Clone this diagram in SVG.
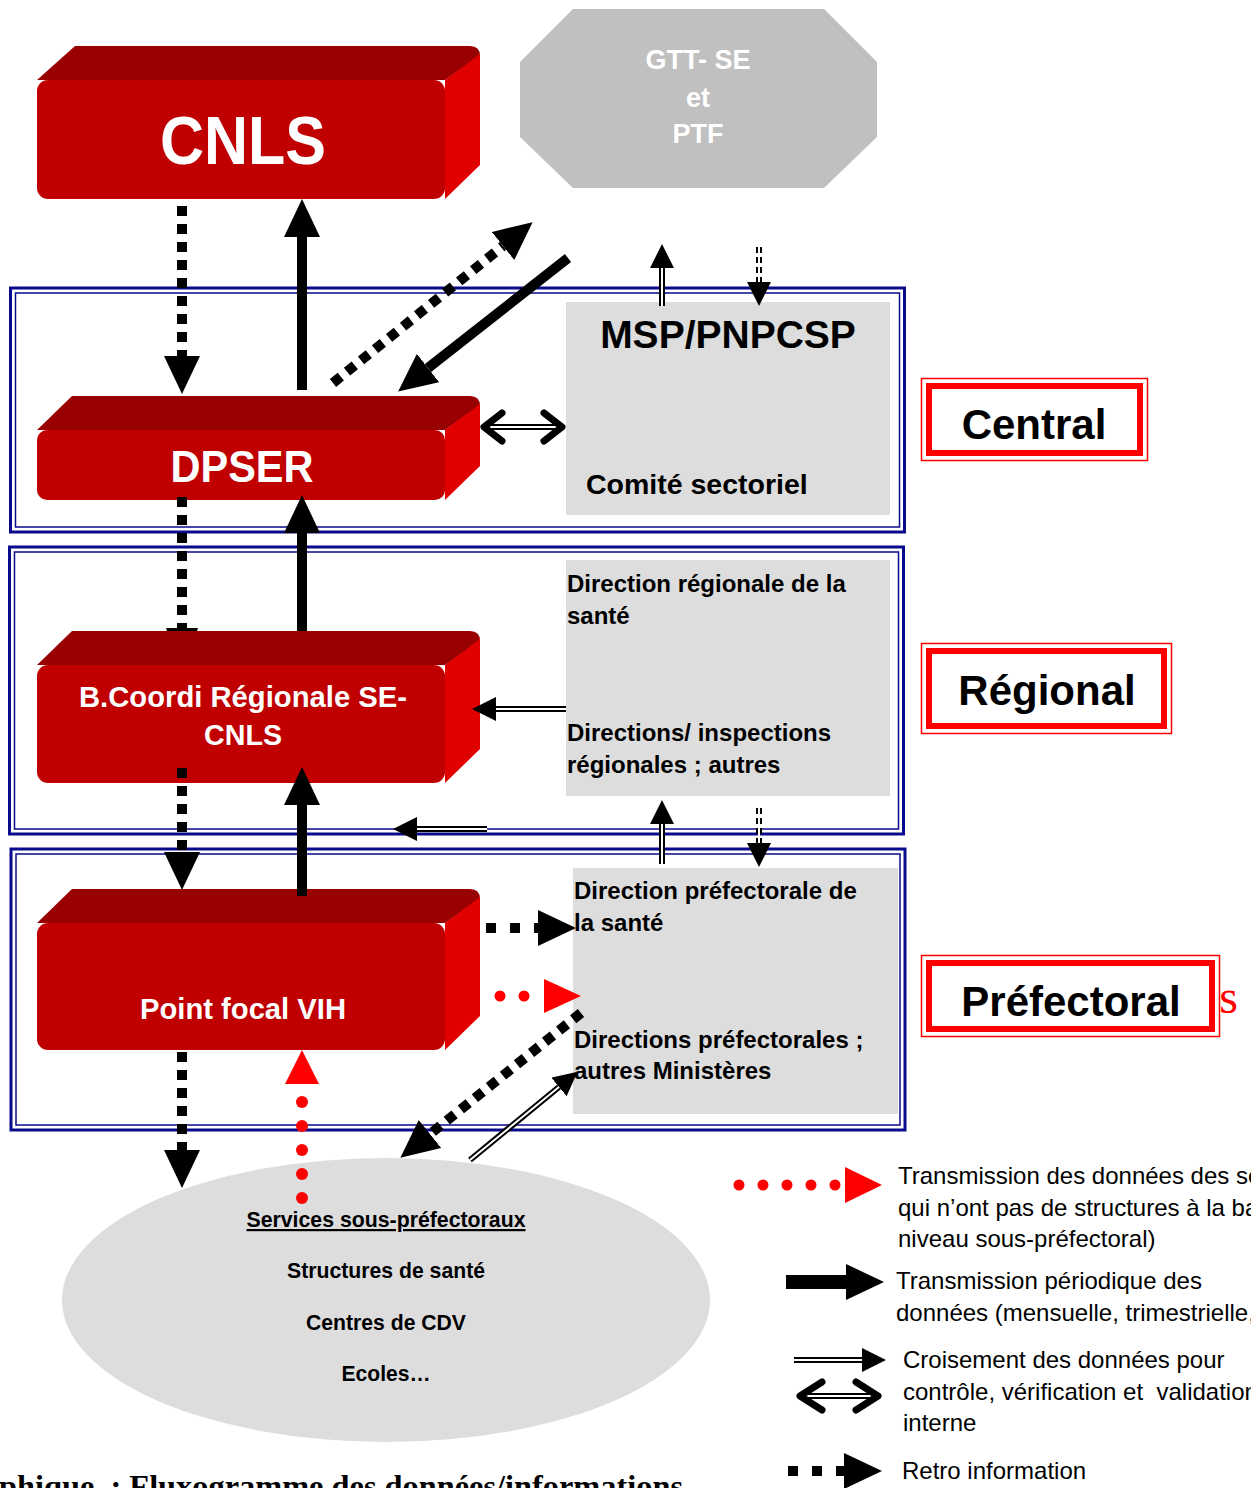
<svg xmlns="http://www.w3.org/2000/svg" width="1251" height="1488" viewBox="0 0 1251 1488">
<defs>
<style>
.top{fill:#990000}.front{fill:#c00000}.side{fill:#e00000}
.wt{fill:#fff;font-family:"Liberation Sans",Arial,sans-serif;font-weight:bold}
.bt{fill:#000;font-family:"Liberation Sans",Arial,sans-serif;font-weight:bold}
.nt{font-family:"Liberation Sans Narrow","Liberation Sans",Arial,sans-serif;font-weight:bold}
.lt{fill:#000;font-family:"Liberation Sans",Arial,sans-serif;font-size:24px}
.gray{fill:#dddddd}
.frO{fill:none;stroke:#0a0a8c;stroke-width:3}
.frI{fill:none;stroke:#0a0a8c;stroke-width:1.5}
.lvO{fill:#fff;stroke:#ff0000;stroke-width:1.5}
.lvI{fill:none;stroke:#ff0000;stroke-width:6}
.solid{fill:none;stroke:#000;stroke-width:10}
.dash{fill:none;stroke:#000;stroke-width:10;stroke-dasharray:10 8}
.dashh{fill:none;stroke:#000;stroke-width:10;stroke-dasharray:10 14}
.dbl{fill:none;stroke:#000;stroke-width:6}
.dblin{fill:none;stroke:#fff;stroke-width:2}
.dbld{fill:none;stroke:#000;stroke-width:6;stroke-dasharray:6 4}
.chev{fill:none;stroke:#000;stroke-width:7;stroke-linecap:round;stroke-linejoin:round}
.red{fill:#ff0000}
</style>
<marker id="hBig" markerUnits="userSpaceOnUse" markerWidth="38" markerHeight="36" viewBox="0 0 38 36" refX="0" refY="18" orient="auto"><path d="M0,0 L38,18 L0,36 Z" fill="#000"/></marker>
<marker id="hSm" markerUnits="userSpaceOnUse" markerWidth="24" markerHeight="24" viewBox="0 0 24 24" refX="0" refY="12" orient="auto"><path d="M0,0 L24,12 L0,24 Z" fill="#000"/></marker>
</defs>
<rect width="1251" height="1488" fill="#fff"/>

<g id="frames">
<rect class="frO" x="10.5" y="288" width="894" height="244"/>
<rect class="frI" x="15.5" y="293" width="884" height="234"/>
<rect class="frO" x="9.5" y="547" width="894" height="287"/>
<rect class="frI" x="14.5" y="552" width="884" height="277"/>
<rect class="frO" x="11" y="849" width="894" height="281"/>
<rect class="frI" x="16" y="854" width="884" height="271"/>
</g>

<g id="cnls">
<path class="top" d="M37,80 L75,46 L470,46 Q480,46 480,56 L445,80 Z"/>
<path class="side" d="M445,80 L480,54 L480,165 L445,199 Z"/>
<rect class="front" x="37" y="80" width="408" height="119" rx="11"/>
<text class="wt" x="243" y="164" font-size="68" text-anchor="middle" textLength="166" lengthAdjust="spacingAndGlyphs">CNLS</text>
</g>

<g id="gtt">
<polygon fill="#c0c0c0" points="573,9 824,9 877,62 877,137 824,188 573,188 520,137 520,62"/>
<text class="wt" x="698" y="69" font-size="27" text-anchor="middle">GTT- SE</text>
<text class="wt" x="698" y="107" font-size="27" text-anchor="middle">et</text>
<text class="wt" x="698" y="143" font-size="27" text-anchor="middle">PTF</text>
</g>

<g id="dpser">
<path class="top" d="M37,430 L72,396 L470,396 Q480,396 480,406 L445,430 Z"/>
<path class="side" d="M445,430 L480,404 L480,466 L445,500 Z"/>
<rect class="front" x="37" y="430" width="408" height="70" rx="10"/>
<text class="wt nt" x="242" y="482" font-size="44" text-anchor="middle" textLength="143" lengthAdjust="spacingAndGlyphs">DPSER</text>
</g>

<g id="msp">
<rect class="gray" x="566" y="302" width="324" height="213"/>
<text class="bt" x="728" y="348" font-size="39" text-anchor="middle">MSP/PNPCSP</text>
<text class="bt" x="586" y="494" font-size="28.5">Comité sectoriel</text>
</g>

<g id="bcoordi">
<path class="top" d="M37,665 L72,631 L470,631 Q480,631 480,641 L445,665 Z"/>
<path class="side" d="M445,665 L480,639 L480,749 L445,783 Z"/>
<rect class="front" x="37" y="665" width="408" height="118" rx="11"/>
<text class="wt nt" x="243" y="707" font-size="29" text-anchor="middle" textLength="328" lengthAdjust="spacingAndGlyphs">B.Coordi Régionale SE-</text>
<text class="wt nt" x="243" y="745" font-size="29" text-anchor="middle" textLength="78" lengthAdjust="spacingAndGlyphs">CNLS</text>
</g>

<g id="dirreg">
<rect class="gray" x="566" y="560" width="324" height="236"/>
<text class="bt" x="567" y="592" font-size="24">Direction régionale de la</text>
<text class="bt" x="567" y="624" font-size="24">santé</text>
<text class="bt" x="567" y="741" font-size="24">Directions/ inspections</text>
<text class="bt" x="567" y="773" font-size="24">régionales ; autres</text>
</g>

<g id="pointfocal">
<path class="top" d="M37,923 L72,889 L470,889 Q480,889 480,899 L445,923 Z"/>
<path class="side" d="M445,923 L480,897 L480,1016 L445,1050 Z"/>
<rect class="front" x="37" y="923" width="408" height="127" rx="11"/>
<text class="wt nt" x="243" y="1019" font-size="29" text-anchor="middle" textLength="206" lengthAdjust="spacingAndGlyphs">Point focal VIH</text>
</g>

<g id="dirpref">
<rect class="gray" x="573" y="868" width="325" height="246"/>
<text class="bt" x="574" y="899" font-size="24">Direction préfectorale de</text>
<text class="bt" x="574" y="931" font-size="24">la santé</text>
<text class="bt" x="574" y="1048" font-size="24">Directions préfectorales ;</text>
<text class="bt" x="574" y="1079" font-size="24">autres Ministères</text>
</g>

<g id="services">
<ellipse class="gray" cx="386" cy="1300" rx="324" ry="142"/>
<text class="nt" x="386" y="1227" font-size="22" text-anchor="middle" text-decoration="underline" textLength="279" lengthAdjust="spacingAndGlyphs">Services sous-préfectoraux</text>
<text class="nt" x="386" y="1278" font-size="22" text-anchor="middle" textLength="198" lengthAdjust="spacingAndGlyphs">Structures de santé</text>
<text class="nt" x="386" y="1330" font-size="22" text-anchor="middle" textLength="160" lengthAdjust="spacingAndGlyphs">Centres de CDV</text>
<text class="nt" x="386" y="1381" font-size="22" text-anchor="middle" textLength="89" lengthAdjust="spacingAndGlyphs">Ecoles…</text>
</g>

<g id="lvl-central">
<rect class="lvO" x="921.5" y="378.5" width="226" height="82"/>
<rect class="lvI" x="929" y="386" width="211" height="67"/>
<text class="bt" x="1034" y="439" font-size="42" text-anchor="middle">Central</text>
</g>
<g id="lvl-regional">
<rect class="lvO" x="921.5" y="643.5" width="250" height="90"/>
<rect class="lvI" x="929" y="651" width="235" height="75"/>
<text class="bt" x="1047" y="705" font-size="42" text-anchor="middle">Régional</text>
</g>
<g id="lvl-prefectoral">
<text x="1238" y="1013" font-family="'Liberation Serif',serif" font-size="48" fill="#ff0000" text-anchor="end">es</text>
<rect class="lvO" x="921.5" y="955.5" width="298" height="81"/>
<rect class="lvI" x="929" y="963" width="283" height="66"/>
<text class="bt" x="1071" y="1016" font-size="42" text-anchor="middle">Préfectoral</text>
</g>

<g id="connectors">
<path class="dash" d="M182,206 V356" marker-end="url(#hBig)"/>
<path class="solid" d="M302,390 V237" marker-end="url(#hBig)"/>
<path class="dash" d="M333,383 L503,246" marker-end="url(#hBig)"/>
<path class="solid" d="M568,258 L428,368" stroke-width="9" marker-end="url(#hBig)"/>
<path class="dbl" d="M662,306 V268" marker-end="url(#hSm)"/>
<path class="dblin" d="M662,306 V268"/>
<path class="dbld" d="M759,247 V282" marker-end="url(#hSm)"/>
<path class="dblin" d="M759,247 V282"/>
<path class="dbl" d="M486,427 H560"/>
<path class="dblin" d="M486,427 H560"/>
<path class="chev" d="M502,413 L484,427 L502,441"/>
<path class="chev" d="M544,413 L562,427 L544,441"/>
<path class="dash" d="M182,497 V628"/>
<polygon points="166,628 198,628 197,631 167,631" fill="#000"/>
<path class="solid" d="M302,631 V533" marker-end="url(#hBig)"/>
<path class="dbl" d="M566,709 H496" marker-end="url(#hSm)"/>
<path class="dblin" d="M566,709 H496"/>
<path class="dbl" d="M487,829 H417" marker-end="url(#hSm)"/>
<path class="dblin" d="M487,829 H417"/>
<path class="dash" d="M182,768 V852" marker-end="url(#hBig)"/>
<path class="solid" d="M302,896 V805" marker-end="url(#hBig)"/>
<path class="dbl" d="M662,864 V824" marker-end="url(#hSm)"/>
<path class="dblin" d="M662,864 V824"/>
<path class="dbld" d="M759,808 V843" marker-end="url(#hSm)"/>
<path class="dblin" d="M759,808 V843"/>
<path class="dashh" d="M486,928 H538" marker-end="url(#hBig)"/>
<circle class="red" cx="500" cy="996" r="5.5"/>
<circle class="red" cx="524" cy="996" r="5.5"/>
<polygon class="red" points="544,979 581,996 544,1013"/>
<path class="dash" d="M581,1013 L430,1134" marker-end="url(#hBig)"/>
<path class="dbl" d="M470,1160 L559,1087" marker-end="url(#hSm)"/>
<path class="dblin" d="M470,1160 L559,1087"/>
<path class="dash" d="M182,1052 V1150" marker-end="url(#hBig)"/>
<polygon class="red" points="285,1084 302,1050 319,1084"/>
<circle class="red" cx="302" cy="1102" r="6"/>
<circle class="red" cx="302" cy="1126" r="6"/>
<circle class="red" cx="302" cy="1150" r="6"/>
<circle class="red" cx="302" cy="1174" r="6"/>
<circle class="red" cx="302" cy="1198" r="6"/>
</g>

<g id="legend">
<circle class="red" cx="739" cy="1185" r="5.5"/>
<circle class="red" cx="763" cy="1185" r="5.5"/>
<circle class="red" cx="787" cy="1185" r="5.5"/>
<circle class="red" cx="811" cy="1185" r="5.5"/>
<circle class="red" cx="835" cy="1185" r="5.5"/>
<polygon class="red" points="845,1167 882,1185 845,1203"/>
<text class="lt" x="898" y="1184">Transmission des données des se</text>
<text class="lt" x="898" y="1216">qui n’ont pas de structures à la ba</text>
<text class="lt" x="898" y="1247">niveau sous-préfectoral)</text>
<path fill="none" stroke="#000" stroke-width="14" d="M786,1282 H846" marker-end="url(#hBig)"/>
<text class="lt" x="896" y="1289">Transmission périodique des</text>
<text class="lt" x="896" y="1321">données (mensuelle, trimestrielle,</text>
<path class="dbl" d="M794,1360 H862" marker-end="url(#hSm)"/>
<path class="dblin" d="M794,1360 H862"/>
<path class="dbl" d="M802,1396 H876"/>
<path class="dblin" d="M802,1396 H876"/>
<path class="chev" d="M822,1382 L800,1396 L822,1410"/>
<path class="chev" d="M856,1382 L878,1396 L856,1410"/>
<text class="lt" x="903" y="1368">Croisement des données pour</text>
<text class="lt" x="903" y="1400" xml:space="preserve">contrôle, vérification et  validation</text>
<text class="lt" x="903" y="1431">interne</text>
<path class="dashh" d="M788,1471 H844" marker-end="url(#hBig)"/>
<text class="lt" x="902" y="1479">Retro information</text>
</g>

<text x="-1" y="1497" font-family="'Liberation Serif','Times New Roman',serif" font-weight="bold" font-size="32" textLength="684" lengthAdjust="spacingAndGlyphs" xml:space="preserve">phique  : Fluxogramme des données/informations</text>
</svg>
